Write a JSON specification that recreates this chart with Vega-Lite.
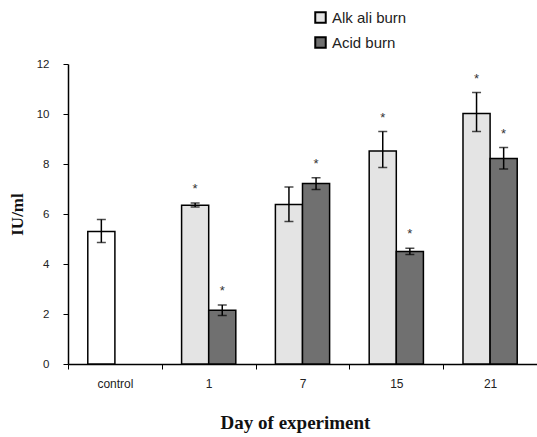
{
  "$schema": "https://vega.github.io/schema/vega-lite/v6.json",
  "autosize": "none",
  "padding": {"left": 68, "top": 64, "right": 0, "bottom": 73},
  "width": 469,
  "height": 300,
  "background": "white",
  "config": {
    "view": {"stroke": null},
    "axis": {"grid": false, "domainColor": "black", "tickColor": "black", "labelFont": "Liberation Sans", "labelColor": "#222", "titleFont": "Liberation Serif", "titleColor": "#111"}
  },
  "data": {
    "values": [
      {"day": "control", "series": "Control", "slot": "a", "mean": 5.3, "lo": 4.86, "hi": 5.78, "sig": ""},
      {"day": "1", "series": "Alkali", "slot": "a", "mean": 6.35, "lo": 6.28, "hi": 6.44, "sig": "*"},
      {"day": "1", "series": "Acid", "slot": "b", "mean": 2.15, "lo": 1.94, "hi": 2.36, "sig": "*"},
      {"day": "7", "series": "Alkali", "slot": "a", "mean": 6.38, "lo": 5.7, "hi": 7.08, "sig": ""},
      {"day": "7", "series": "Acid", "slot": "b", "mean": 7.22, "lo": 6.98, "hi": 7.45, "sig": "*"},
      {"day": "15", "series": "Alkali", "slot": "a", "mean": 8.52, "lo": 7.86, "hi": 9.3, "sig": "*"},
      {"day": "15", "series": "Acid", "slot": "b", "mean": 4.5, "lo": 4.38, "hi": 4.63, "sig": "*"},
      {"day": "21", "series": "Alkali", "slot": "a", "mean": 10.02, "lo": 9.3, "hi": 10.86, "sig": "*"},
      {"day": "21", "series": "Acid", "slot": "b", "mean": 8.22, "lo": 7.8, "hi": 8.66, "sig": "*"}
    ]
  },
  "encoding": {
    "x": {
      "field": "day", "type": "nominal", "sort": ["control", "1", "7", "15", "21"],
      "scale": {"paddingInner": 0, "paddingOuter": 0},
      "axis": {"title": "Day of experiment", "labelAngle": 0, "tickBand": "extent", "tickSize": 5, "domainWidth": 1.5, "labelFontSize": 12, "labelPadding": 9, "titleFontSize": 19, "titleFontWeight": "bold", "titlePadding": 24, "titleX": 227}
    },
    "xOffset": {"field": "slot", "type": "nominal", "scale": {"domain": ["a", "b"], "paddingInner": 0, "paddingOuter": 0.73}}
  },
  "layer": [
    {
      "mark": {"type": "bar", "stroke": "black", "strokeWidth": 1.5},
      "encoding": {
        "y": {
          "field": "mean", "type": "quantitative",
          "scale": {"domain": [0, 12]},
          "axis": {"title": "IU/ml", "values": [0, 2, 4, 6, 8, 10, 12], "tickSize": 5, "domainWidth": 1.5, "labelFontSize": 11.5, "labelPadding": 14, "titleFontSize": 17, "titleFontWeight": "bold", "titlePadding": 10}
        },
        "fill": {
          "field": "series", "type": "nominal",
          "scale": {"domain": ["Control", "Alkali", "Acid"], "range": ["#ffffff", "#e4e4e4", "#707070"]},
          "legend": {
            "values": ["Alkali", "Acid"], "title": null, "orient": "none", "legendX": 245, "legendY": -54,
            "labelExpr": "datum.value == 'Alkali' ? 'Alk ali burn' : 'Acid burn'",
            "symbolType": "square", "symbolSize": 110, "symbolStrokeColor": "black", "symbolStrokeWidth": 2,
            "labelFont": "Liberation Sans", "labelFontSize": 15, "labelColor": "#222", "labelOffset": 4, "rowPadding": 6, "padding": 0
          }
        }
      }
    },
    {
      "mark": {"type": "rule", "stroke": "black", "strokeWidth": 1.5},
      "encoding": {"y": {"field": "lo", "type": "quantitative"}, "y2": {"field": "hi"}}
    },
    {
      "mark": {"type": "tick", "color": "black", "thickness": 1.5, "size": 9},
      "encoding": {"y": {"field": "lo", "type": "quantitative"}}
    },
    {
      "mark": {"type": "tick", "color": "black", "thickness": 1.5, "size": 9},
      "encoding": {"y": {"field": "hi", "type": "quantitative"}}
    },
    {
      "mark": {"type": "text", "font": "Liberation Sans", "fontSize": 13, "color": "#333", "baseline": "middle", "dy": -14},
      "encoding": {"y": {"field": "hi", "type": "quantitative"}, "text": {"field": "sig"}}
    }
  ]
}
